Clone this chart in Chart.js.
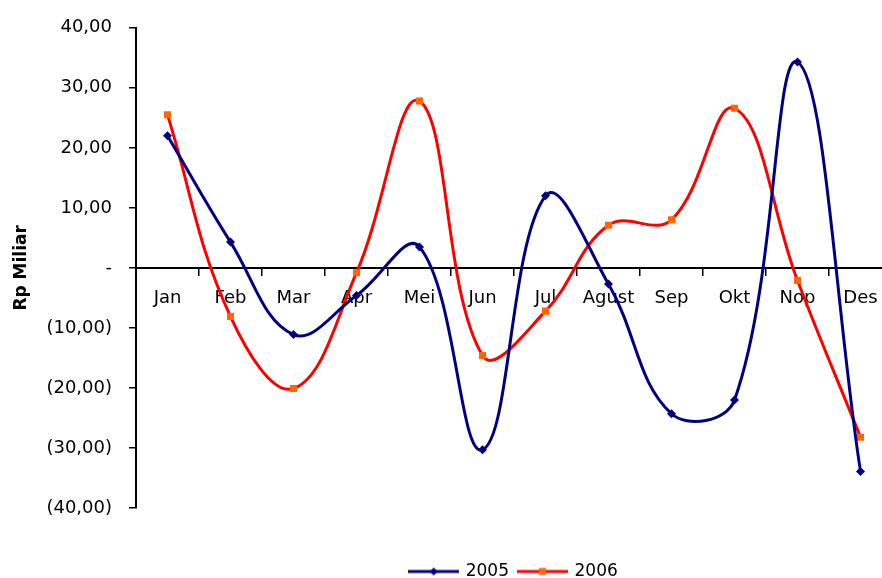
<!DOCTYPE html>
<html>
<head>
<meta charset="utf-8">
<script src="https://cdn.jsdelivr.net/npm/chart.js@4.4.1/dist/chart.umd.min.js"></script>
<style>
  html, body { margin: 0; padding: 0; background: #fff; overflow: hidden; }
  #wrap { width: 897px; height: 590px; }
</style>
</head>
<body>
<div id="wrap"><canvas id="chart" width="897" height="590"></canvas></div>
<script>
const months = ['Jan', 'Feb', 'Mar', 'Apr', 'Mei', 'Jun', 'Jul', 'Agust', 'Sep', 'Okt', 'Nop', 'Des'];
const values2005 = [22.0, 4.3, -11.1, -4.6, 3.5, -30.3, 12.0, -2.7, -24.3, -22.0, 34.3, -33.9];
const values2006 = [25.5, -8.1, -20.1, -0.8, 27.8, -14.6, -7.2, 7.1, 8.0, 26.6, -2.1, -28.2];
const yTicks = [-40, -30, -20, -10, 0, 10, 20, 30, 40];

const FONT = 'DejaVu Sans';

// "(10,00)" style labels, dash at zero
function formatRp(v) {
  if (v === 0) return '-';
  const s = Math.abs(v).toFixed(2).replace('.', ',');
  return v < 0 ? '(' + s + ')' : s;
}

// small line + marker icon for the legend
function legendIcon(lineColor, markerColor, shape) {
  const c = document.createElement('canvas');
  c.width = 51;
  c.height = 10;
  const ctx = c.getContext('2d');
  ctx.strokeStyle = lineColor;
  ctx.lineWidth = 3;
  ctx.beginPath();
  ctx.moveTo(0, 5);
  ctx.lineTo(51, 5);
  ctx.stroke();
  ctx.fillStyle = markerColor;
  if (shape === 'diamond') {
    ctx.beginPath();
    ctx.moveTo(25.5, 1);
    ctx.lineTo(29.5, 5);
    ctx.lineTo(25.5, 9);
    ctx.lineTo(21.5, 5);
    ctx.closePath();
    ctx.fill();
  } else {
    ctx.fillRect(22, 1.5, 7, 7);
  }
  return c;
}

const icons = [
  legendIcon('#000080', '#000080', 'diamond'),
  legendIcon('#FF0000', '#FF6600', 'square')
];

new Chart(document.getElementById('chart'), {
  type: 'line',
  data: {
    labels: months,
    datasets: [
      {
        label: '2005',
        data: values2005,
        borderColor: '#000080',
        backgroundColor: '#000080',
        borderWidth: 3,
        pointStyle: 'rectRot',
        pointRadius: 4.5,
        pointBorderWidth: 0,
        tension: 0.4
      },
      {
        label: '2006',
        data: values2006,
        borderColor: '#FF0000',
        backgroundColor: '#FF6600',
        borderWidth: 3,
        pointStyle: 'rect',
        pointRadius: 5,
        pointBorderWidth: 0,
        tension: 0.4
      }
    ]
  },
  options: {
    responsive: false,
    animation: false,
    layout: { padding: { top: 22, right: 1, left: 0, bottom: 0 } },
    scales: {
      x: {
        position: { y: 0 },
        offset: true,
        grid: {
          offset: true,
          drawOnChartArea: false,
          drawTicks: true,
          tickLength: 7,
          color: '#000',
          lineWidth: 1.5
        },
        border: { color: '#000', width: 2 },
        ticks: {
          color: '#000',
          font: { family: FONT, size: 18 },
          padding: 13,
          maxRotation: 0,
          autoSkip: false
        }
      },
      y: {
        min: -40,
        max: 40,
        afterBuildTicks: (scale) => { scale.ticks = yTicks.map(v => ({ value: v })); },
        afterFit: (scale) => { scale.width = 136; },
        grid: {
          drawOnChartArea: false,
          drawTicks: true,
          tickLength: 7,
          color: '#000',
          lineWidth: 1.5
        },
        border: { color: '#000', width: 2 },
        ticks: {
          color: '#000',
          font: { family: FONT, size: 18 },
          padding: 17,
          callback: (v) => formatRp(v)
        },
        title: {
          display: true,
          text: 'Rp Miliar',
          color: '#000',
          font: { family: FONT, size: 17, weight: 'bold' },
          padding: { top: 11, bottom: 0 }
        }
      }
    },
    plugins: {
      tooltip: { enabled: false },
      legend: {
        position: 'bottom',
        fullSize: false,
        title: {
          display: true,
          text: '',
          font: { size: 10 },
          padding: { top: 33, bottom: 0 }
        },
        labels: {
          usePointStyle: true,
          pointStyleWidth: 47,
          padding: 10,
          color: '#000',
          font: { family: FONT, size: 17 },
          generateLabels: (chart) => chart.data.datasets.map((ds, i) => ({
            text: ds.label,
            pointStyle: icons[i],
            fillStyle: ds.borderColor,
            strokeStyle: ds.borderColor,
            lineWidth: 0,
            hidden: false,
            datasetIndex: i,
            fontColor: '#000'
          }))
        }
      }
    }
  }
});
</script>
</body>
</html>
